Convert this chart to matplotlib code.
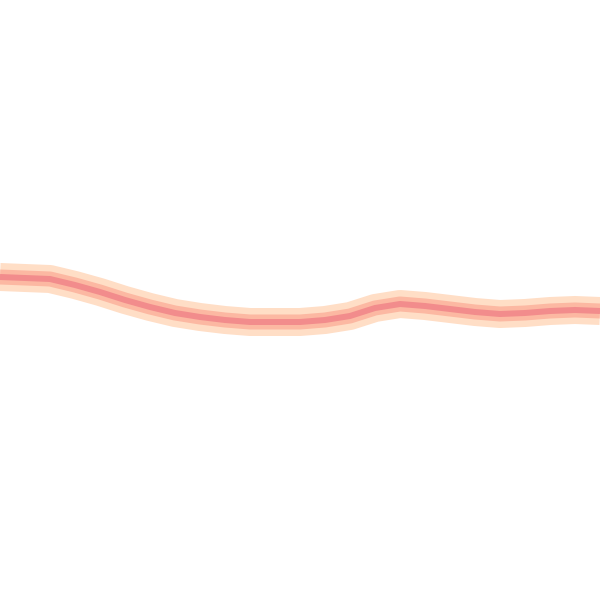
import matplotlib
matplotlib.use("Agg")
import matplotlib.pyplot as plt

# centre of the trace (x, y in picture units, y grows downward)
xs = [0, 25, 50, 75, 100, 125, 150, 175, 200, 225, 250, 275, 300,
      325, 350, 375, 400, 425, 450, 475, 500, 525, 550, 575, 600]
ys = [277, 278, 279, 285, 292, 300, 307, 313, 317, 320, 322, 322, 322,
      320, 316, 308, 304, 306, 309, 312, 314, 313, 311, 310, 311]

fig = plt.figure(figsize=(6, 6), dpi=100)
ax = fig.add_axes([0, 0, 1, 1])
ax.set_xlim(0, 600)
ax.set_ylim(600, 0)
ax.axis("off")

px = 0.72  # points per pixel at dpi 100
ax.plot(xs, ys, color="#ffdec6", lw=28 * px, solid_capstyle="butt", solid_joinstyle="round")
ax.plot(xs, ys, color="#fcb8a2", lw=15 * px, solid_capstyle="butt", solid_joinstyle="round")
ax.plot(xs, ys, color="#f28c8c", lw=6 * px, solid_capstyle="butt", solid_joinstyle="round")

fig.savefig("out.png", dpi=100)
